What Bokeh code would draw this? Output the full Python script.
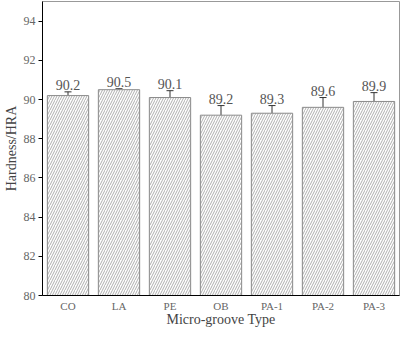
from bokeh.plotting import figure
from bokeh.models import ColumnDataSource, Whisker, TeeHead, Range1d, FixedTicker
from bokeh.core.properties import value
from bokeh.embed import file_html
from bokeh.resources import INLINE

categories = ["CO", "LA", "PE", "OB", "PA-1", "PA-2", "PA-3"]
hardness = [90.2, 90.5, 90.1, 89.2, 89.3, 89.6, 89.9]
errors = [0.19, 0.05, 0.35, 0.49, 0.39, 0.5, 0.45]
labels = ["90.2", "90.5", "90.1", "89.2", "89.3", "89.6", "89.9"]
y_ticks = [80, 82, 84, 86, 88, 90, 92, 94]

FONT = "Liberation Serif"

src = ColumnDataSource(dict(
    x=categories, top=hardness,
    upper=[h + e for h, e in zip(hardness, errors)],
    lower=[h - e for h, e in zip(hardness, errors)],
    label=labels,
))

p = figure(x_range=categories, y_range=Range1d(80, 95), width=400, height=329,
           output_backend="svg", toolbar_location=None,
           min_border_left=0, min_border_right=1, min_border_top=1, min_border_bottom=0)

p.vbar(x="x", top="top", bottom=80, width=0.81, source=src,
       fill_color="white", line_color="#8a8a8a", line_width=1,
       hatch_pattern="/", hatch_color="#8c8c8c", hatch_scale=5, hatch_weight=0.7)

w = Whisker(base="x", upper="upper", lower="lower", source=src,
            line_color="#333333", line_width=1,
            upper_head=TeeHead(size=7, line_color="#333333", line_width=1),
            lower_head=TeeHead(size=7, line_color="#333333", line_width=1))
p.add_layout(w)

p.text(x="x", y="upper", text="label", source=src, text_align="center",
       text_baseline="bottom", y_offset=-2, text_font=value(FONT),
       text_font_size="14px", text_color="#555555")

p.grid.visible = False
p.outline_line_color = "#999999"
p.outline_line_width = 1

p.yaxis.ticker = FixedTicker(ticks=y_ticks)
p.yaxis.axis_label = "Hardness/HRA"
p.yaxis.axis_label_text_font = FONT
p.yaxis.axis_label_text_font_style = "normal"
p.yaxis.axis_label_text_font_size = "14px"
p.yaxis.axis_label_text_color = "#444444"
p.yaxis.axis_label_standoff = 2
p.yaxis.major_tick_out = 4
p.yaxis.major_tick_in = 0
p.yaxis.minor_tick_line_color = None
p.yaxis.major_label_text_font = FONT
p.yaxis.major_label_text_font_size = "12px"
p.yaxis.major_label_text_color = "#666666"
p.yaxis.major_label_standoff = 3
p.yaxis.axis_line_color = "black"

p.xaxis.axis_label = "Micro-groove Type"
p.xaxis.axis_label_text_font = FONT
p.xaxis.axis_label_text_font_style = "normal"
p.xaxis.axis_label_text_font_size = "14px"
p.xaxis.axis_label_text_color = "#444444"
p.xaxis.axis_label_standoff = -3
p.xaxis.major_tick_line_color = None
p.xaxis.minor_tick_line_color = None
p.xaxis.major_tick_out = 0
p.xaxis.major_label_text_font = FONT
p.xaxis.major_label_text_font_size = "11px"
p.xaxis.major_label_text_color = "#666666"
p.xaxis.major_label_standoff = 4
p.xaxis.axis_line_color = "black"

p.x_range.range_padding = 0.0

open("out.html", "w").write(file_html(p, INLINE))
